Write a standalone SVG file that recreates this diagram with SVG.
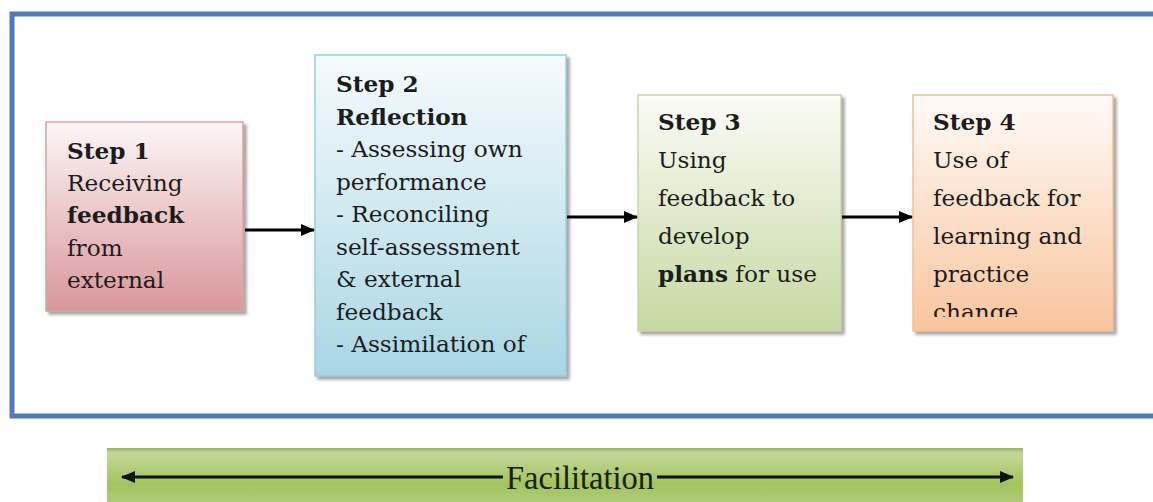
<svg xmlns="http://www.w3.org/2000/svg" width="1153" height="502" viewBox="0 0 1153 502">
<style>
  .t { font-family: "DejaVu Serif", "Liberation Serif", serif; font-size: 23.2px; fill: #1c1c1c; }
  .b { font-weight: bold; }
  .conn { stroke: #000; stroke-width: 3; fill: none; }
  .fac { font-family: "Liberation Serif", serif; font-size: 33px; fill: #1a1f0c; }
</style>
<defs>
  <linearGradient id="g1" x1="0" y1="0" x2="0" y2="1">
    <stop offset="0" stop-color="#fdf6f6"/>
    <stop offset="1" stop-color="#d9969a"/>
  </linearGradient>
  <linearGradient id="g2" x1="0" y1="0" x2="0" y2="1">
    <stop offset="0" stop-color="#f6fbfd"/>
    <stop offset="1" stop-color="#a9d6e4"/>
  </linearGradient>
  <linearGradient id="g3" x1="0" y1="0" x2="0" y2="1">
    <stop offset="0" stop-color="#fbfcf6"/>
    <stop offset="1" stop-color="#c6d8a2"/>
  </linearGradient>
  <linearGradient id="g4" x1="0" y1="0" x2="0" y2="1">
    <stop offset="0" stop-color="#fffbf8"/>
    <stop offset="1" stop-color="#f9c59d"/>
  </linearGradient>
  <linearGradient id="gf" x1="0" y1="0" x2="0" y2="1">
    <stop offset="0" stop-color="#9aaf5c"/>
    <stop offset="0.08" stop-color="#c4d79c"/>
    <stop offset="0.25" stop-color="#b9d287"/>
    <stop offset="0.6" stop-color="#a2c35e"/>
    <stop offset="1" stop-color="#b4cf7f"/>
  </linearGradient>
  <filter id="sh" x="-5%" y="-5%" width="115%" height="115%">
    <feDropShadow dx="3" dy="3" stdDeviation="1.5" flood-color="#7f7f7f" flood-opacity="0.7"/>
  </filter>
  <marker id="ah" markerWidth="14" markerHeight="12" refX="13" refY="6" orient="auto" markerUnits="userSpaceOnUse">
    <path d="M0,0 L14,6 L0,12 Z" fill="#000"/>
  </marker>
  <marker id="ahs" markerWidth="14" markerHeight="12" refX="13" refY="6" orient="auto-start-reverse" markerUnits="userSpaceOnUse">
    <path d="M0,0 L14,6 L0,12 Z" fill="#111"/>
  </marker>
  <clipPath id="c4"><rect x="913" y="95" width="200" height="222"/></clipPath>
</defs>

<rect x="0" y="0" width="1153" height="502" fill="#ffffff"/>

<rect id="frame" x="12" y="14" width="1160" height="402" fill="none" stroke="#4f7bbd" stroke-width="5"/>

<g id="step1">
  <rect x="46" y="122" width="197" height="189" fill="url(#g1)" stroke="#d8a3a5" stroke-width="1.5" filter="url(#sh)"/>
  <text class="t" x="67"><tspan class="b" x="67" y="159">Step 1</tspan><tspan x="67" y="191">Receiving</tspan><tspan class="b" x="67" y="223">feedback</tspan><tspan x="67" y="256">from</tspan><tspan x="67" y="288">external</tspan></text>
</g>

<g id="step2">
  <rect x="315" y="55" width="251" height="321" fill="url(#g2)" stroke="#98cfdf" stroke-width="1.5" filter="url(#sh)"/>
  <text class="t" x="336"><tspan class="b" x="336" y="92">Step 2</tspan><tspan class="b" x="336" y="124.5">Reflection</tspan><tspan x="336" y="157">- Assessing own</tspan><tspan x="336" y="189.5">performance</tspan><tspan x="336" y="222">- Reconciling</tspan><tspan x="336" y="254.5">self-assessment</tspan><tspan x="336" y="287">&amp; external</tspan><tspan x="336" y="319.5">feedback</tspan><tspan x="336" y="352">- Assimilation of</tspan></text>
</g>

<g id="step3">
  <rect x="638" y="95" width="203" height="236" fill="url(#g3)" stroke="#c5d6a4" stroke-width="1.5" filter="url(#sh)"/>
  <text class="t" x="658"><tspan class="b" x="658" y="130">Step 3</tspan><tspan x="658" y="168">Using</tspan><tspan x="658" y="206">feedback to</tspan><tspan x="658" y="244">develop</tspan><tspan class="b" x="658" y="282">plans</tspan><tspan> for use</tspan></text>
</g>

<g id="step4">
  <rect x="913" y="95" width="200" height="236" fill="url(#g4)" stroke="#f4bf96" stroke-width="1.5" filter="url(#sh)"/>
  <text class="t" x="933" clip-path="url(#c4)"><tspan class="b" x="933" y="130">Step 4</tspan><tspan x="933" y="168">Use of</tspan><tspan x="933" y="206">feedback for</tspan><tspan x="933" y="244">learning and</tspan><tspan x="933" y="282">practice</tspan><tspan x="933" y="320">change</tspan></text>
</g>

<g id="connectors">
  <line class="conn" x1="245" y1="230" x2="314" y2="230" marker-end="url(#ah)"/>
  <line class="conn" x1="567" y1="217" x2="637" y2="217" marker-end="url(#ah)"/>
  <line class="conn" x1="842" y1="217" x2="912" y2="217" marker-end="url(#ah)"/>
</g>

<g id="facilitation">
  <rect x="107" y="448" width="916" height="60" fill="url(#gf)"/>
  <line x1="122" y1="477" x2="503" y2="477" stroke="#111" stroke-width="3" marker-start="url(#ahs)"/>
  <line x1="657" y1="477" x2="1013" y2="477" stroke="#111" stroke-width="3" marker-end="url(#ahs)"/>
  <text class="fac" x="580" y="489" text-anchor="middle" textLength="148" lengthAdjust="spacingAndGlyphs">Facilitation</text>
</g>
</svg>
